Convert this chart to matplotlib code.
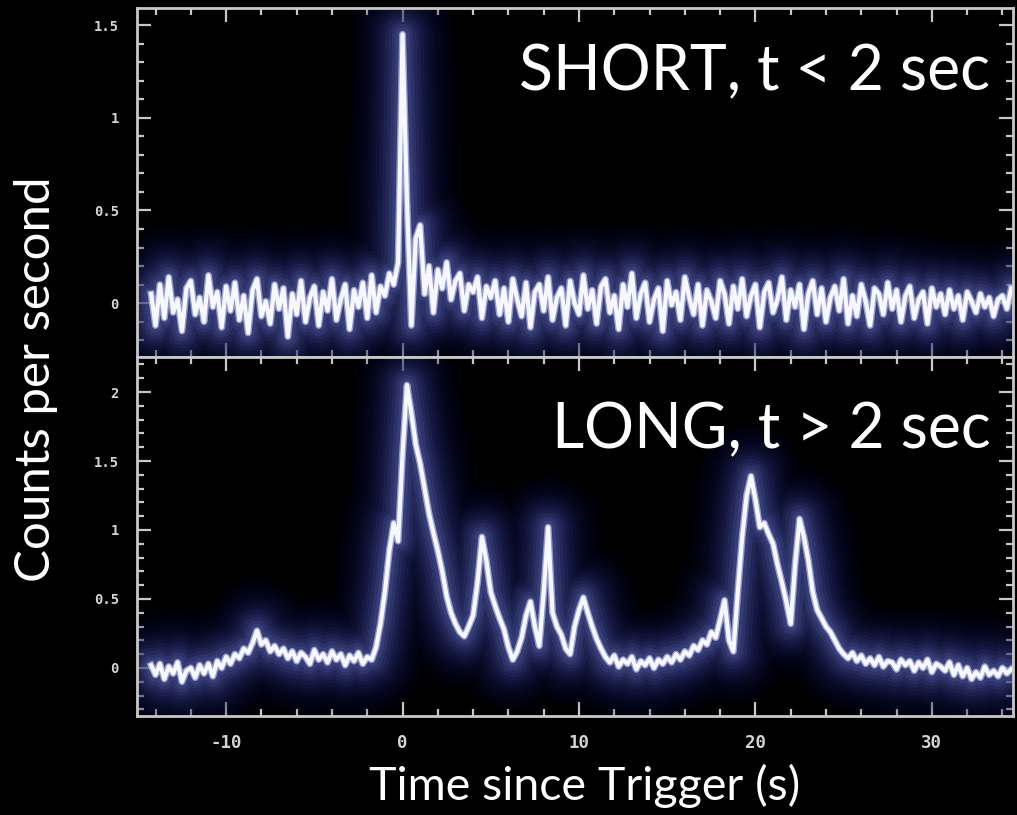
import numpy as np
import matplotlib.pyplot as plt
from matplotlib.ticker import MultipleLocator

t_start, t_step = -14.25, 0.25

short_counts = [
    0.05, -0.12, 0.10, -0.08, 0.14, -0.05, 0.02, -0.15, 0.08, 0.12, -0.06, 0.03, -0.10, 0.15, -0.02, 0.06, -0.13, 0.09, -0.04, 0.11,
    -0.09, 0.04, -0.16, 0.07, 0.13, -0.07, 0.01, -0.11, 0.10, -0.03, 0.08, -0.18, 0.05, -0.06, 0.12, -0.10, 0.03, 0.09, -0.12, 0.06,
    -0.04, 0.13, -0.09, 0.02, 0.10, -0.14, 0.07, -0.02, 0.11, -0.08, 0.15, -0.05, 0.09, 0.04, 0.16, 0.10, 0.22, 1.45, 0.55, -0.12,
    0.35, 0.42, 0.05, 0.20, -0.05, 0.18, 0.08, 0.22, 0.02, 0.12, 0.16, -0.04, 0.10, 0.06, 0.14, -0.08, 0.09, 0.03, 0.12, -0.06,
    0.08, -0.10, 0.13, 0.02, -0.07, 0.11, -0.13, 0.06, 0.10, -0.04, 0.14, -0.09, 0.03, 0.08, -0.12, 0.12, 0.00, -0.06, 0.15, -0.03,
    0.07, -0.11, 0.09, 0.13, -0.05, 0.04, -0.14, 0.10, -0.02, 0.16, -0.08, 0.05, 0.11, -0.10, 0.02, 0.08, -0.15, 0.12, -0.01, 0.06,
    -0.09, 0.14, 0.03, -0.06, 0.10, -0.12, 0.07, 0.01, -0.08, 0.12, 0.05, -0.11, 0.09, -0.03, 0.13, -0.07, 0.04, 0.10, -0.13, 0.06,
    0.11, -0.05, 0.02, 0.14, -0.09, 0.07, -0.02, 0.10, -0.14, 0.05, 0.12, -0.06, 0.08, -0.10, 0.03, 0.09, -0.04, 0.13, -0.11, 0.04,
    -0.07, 0.10, 0.01, -0.12, 0.08, 0.05, -0.06, 0.11, -0.03, 0.07, -0.10, 0.04, 0.09, -0.08, 0.02, 0.06, -0.11, 0.08, -0.02, 0.05,
    -0.06, 0.07, -0.03, 0.04, -0.09, 0.06, 0.01, -0.05, 0.05, -0.02, 0.03, -0.07, 0.02, 0.04, -0.03, 0.08,
]

long_counts = [
    0.02, -0.05, 0.03, -0.08, 0.01, -0.04, 0.04, -0.10, -0.02, 0.00, -0.07, 0.02, -0.04, 0.03, -0.06, 0.05, 0.00, 0.08, 0.03, 0.10,
    0.07, 0.14, 0.11, 0.18, 0.27, 0.17, 0.20, 0.12, 0.16, 0.10, 0.14, 0.07, 0.12, 0.05, 0.11, 0.08, 0.03, 0.13, 0.06, 0.10,
    0.04, 0.12, 0.06, 0.10, 0.02, 0.09, 0.05, 0.11, 0.03, 0.08, 0.06, 0.15, 0.32, 0.55, 0.85, 1.05, 0.92, 1.55, 2.05, 1.85,
    1.62, 1.48, 1.30, 1.12, 0.98, 0.85, 0.70, 0.52, 0.40, 0.32, 0.26, 0.23, 0.30, 0.38, 0.62, 0.95, 0.78, 0.55, 0.45, 0.36,
    0.28, 0.15, 0.06, 0.12, 0.22, 0.38, 0.48, 0.30, 0.16, 0.55, 1.02, 0.40, 0.30, 0.24, 0.14, 0.10, 0.30, 0.42, 0.51, 0.40,
    0.30, 0.21, 0.14, 0.08, 0.04, 0.09, 0.01, 0.06, 0.03, 0.08, -0.01, 0.05, 0.02, 0.07, 0.00, 0.06, 0.03, 0.08, 0.04, 0.10,
    0.06, 0.12, 0.09, 0.16, 0.13, 0.20, 0.17, 0.26, 0.22, 0.35, 0.49, 0.20, 0.12, 0.55, 0.95, 1.25, 1.39, 1.22, 1.02, 1.05,
    0.97, 0.90, 0.75, 0.62, 0.48, 0.32, 0.75, 1.08, 0.95, 0.78, 0.55, 0.42, 0.36, 0.30, 0.26, 0.20, 0.14, 0.10, 0.07, 0.11,
    0.05, 0.09, 0.03, 0.07, 0.02, 0.08, 0.01, 0.05, 0.04, -0.01, 0.06, 0.02, 0.05, -0.02, 0.04, 0.00, 0.06, -0.03, 0.03, 0.01,
    -0.02, 0.04, -0.05, 0.02, -0.06, 0.00, -0.08, -0.03, -0.07, 0.01, -0.05, -0.02, -0.06, 0.00, -0.04, -0.01,
]

labels = ["SHORT, t < 2 sec", "LONG, t > 2 sec"]
x_ticks = [-10, 0, 10, 20, 30]

t = t_start + t_step * np.arange(len(short_counts))

fig = plt.figure(figsize=(10.17, 8.15), dpi=100, facecolor='black')
ax_top = fig.add_axes([0.1347, 0.5620, 0.8614, 0.4282])
ax_bot = fig.add_axes([0.1347, 0.1215, 0.8614, 0.4405], sharex=ax_top)

frame_col = '#c8c8c8'


def glow_line(ax, x, y):
    # many thin steps of navy halo so it fades smoothly, then a white core
    n = 16
    widths = np.linspace(80, 5, n)
    dark = np.array([0.05, 0.07, 0.30])
    light = np.array([0.55, 0.60, 0.95])
    for i, lw in enumerate(widths):
        f = i / (n - 1)
        c = dark + (light - dark) * f ** 2
        ax.plot(x, y, color=c, lw=lw, alpha=0.05 + 0.09 * f,
                solid_joinstyle='round', solid_capstyle='round')
    ax.plot(x, y, color='#c8d0ff', lw=5, alpha=0.6, solid_joinstyle='round')
    ax.plot(x, y, color='#f6f7ff', lw=3.0, solid_joinstyle='round')


for ax in (ax_top, ax_bot):
    ax.set_facecolor('black')
    for sp in ax.spines.values():
        sp.set_color(frame_col)
        sp.set_linewidth(2)
        sp.set_zorder(5)
    ax.tick_params(which='both', direction='in', top=True, right=True,
                   color=frame_col, labelcolor='#d4d4d4', width=1.6)
    ax.tick_params(which='major', length=10)
    ax.tick_params(which='minor', length=5)
    ax.xaxis.set_major_locator(MultipleLocator(10))
    ax.xaxis.set_minor_locator(MultipleLocator(2))
    ax.yaxis.set_major_locator(MultipleLocator(0.5))
    ax.yaxis.set_minor_locator(MultipleLocator(0.1))

glow_line(ax_top, t, short_counts)
glow_line(ax_bot, t, long_counts)

ax_top.set_xlim(-15.05, 34.6)
ax_top.set_ylim(-0.29, 1.592)
ax_bot.set_ylim(-0.348, 2.254)
ax_top.tick_params(labelbottom=False)

ax_bot.set_xticks(x_ticks)
ax_bot.set_xticklabels([str(v) for v in x_ticks], family='DejaVu Sans Mono',
                       fontsize=12.5, fontweight='bold')
ax_bot.tick_params(axis='x', pad=13)

ax_top.set_yticks([0, 0.5, 1, 1.5])
ax_top.set_yticklabels(['0', '0.5', '1', '1.5'], family='DejaVu Sans Mono',
                       fontsize=10, fontweight='bold')
ax_bot.set_yticks([0, 0.5, 1, 1.5, 2])
ax_bot.set_yticklabels(['0', '0.5', '1', '1.5', '2'], family='DejaVu Sans Mono',
                       fontsize=10, fontweight='bold')
for ax in (ax_top, ax_bot):
    ax.tick_params(axis='y', pad=13)

ax_top.text(0.974, 0.815, labels[0], transform=ax_top.transAxes, ha='right',
            va='center', color='white', fontsize=45, family='Lato')
ax_bot.text(0.974, 0.795, labels[1], transform=ax_bot.transAxes, ha='right',
            va='center', color='white', fontsize=45, family='Lato')

fig.text(0.035, 0.535, 'Counts per second', rotation=90, ha='center',
         va='center', color='white', fontsize=35.5, family='Lato')
fig.text(0.575, 0.036, 'Time since Trigger (s)', ha='center', va='center',
         color='white', fontsize=33.5, family='Lato')

fig.savefig('out.png', dpi=100, facecolor='black')
